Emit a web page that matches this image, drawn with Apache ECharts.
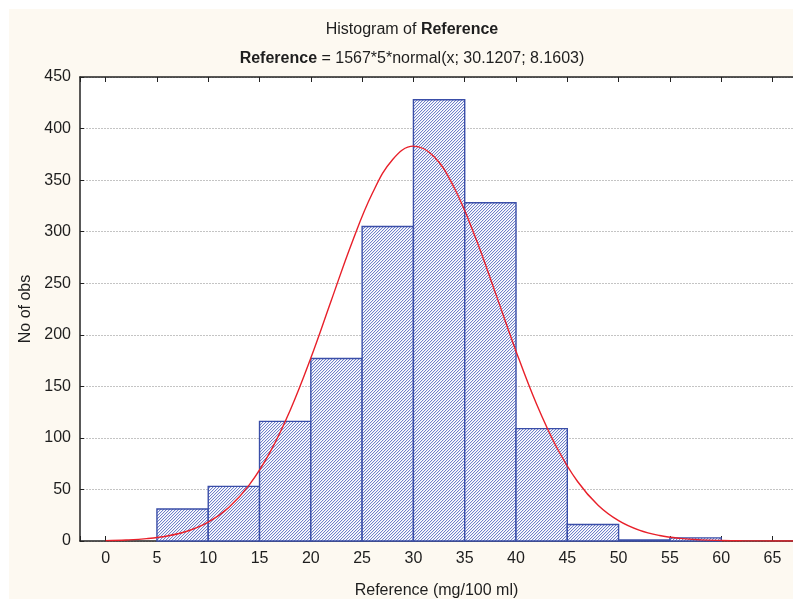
<!DOCTYPE html>
<html>
<head>
<meta charset="utf-8">
<script src="https://cdn.jsdelivr.net/npm/echarts@6/dist/echarts.min.js"></script>
<style>
html,body{margin:0;padding:0;background:#fff;}
#chart{width:793px;height:601px;}
</style>
</head>
<body>
<div id="chart"></div>
<script>
// Histogram bins (lower edge, upper edge) and counts
const binStarts = [5, 10, 15, 20, 25, 30, 35, 40, 45, 50, 55];
const binWidth = 5;
const counts = [31, 53, 116, 177, 305, 428, 328, 109, 16, 1, 3];
// Fitted normal curve (x, expected count)
const curveX = [0,2,4,6,8,10,12,14,16,18,20,22,24,26,28,30,32,34,36,38,40,42,44,46,48,50,52,54,56,58,60,62,64,66,68];
const curveY = [0.4,1.0,2.3,4.9,9.7,18.3,32.5,54.4,85.7,127.1,177.5,233.5,289.1,337.2,370.3,383.0,373.0,342.1,295.5,240.4,184.1,132.8,90.2,57.7,34.7,19.7,10.5,5.3,2.5,1.1,0.5,0.2,0.1,0.03,0.01];
const yTicks = [0, 50, 100, 150, 200, 250, 300, 350, 400, 450];

const chart = echarts.init(document.getElementById('chart'), null, {renderer: 'canvas'});

// hatch pattern (pixel based diagonal stripes)
const P = 6;
const pat = document.createElement('canvas');
pat.width = P; pat.height = P;
const pc = pat.getContext('2d');
for (let y = 0; y < P; y++) {
  for (let x = 0; x < P; x++) {
    const k = (x + y) % 3;
    pc.fillStyle = k === 0 ? '#7081ca' : (k === 1 ? '#e2e6f5' : '#ffffff');
    pc.fillRect(x, y, 1, 1);
  }
}

const barData = binStarts.map((s, i) => [s, s + binWidth, counts[i]]);
const lineData = curveX.map((x, i) => [x, curveY[i]]);

const FONT = '"Liberation Sans", Arial, sans-serif';
const TXT = '#1e1e1e';
const axisCommon = {
  type: 'value',
  min: -2.5,
  max: 67,
  splitNumber: 14,
  minInterval: 5,
  maxInterval: 5
};

chart.setOption({
  animation: false,
  backgroundColor: '#ffffff',
  graphic: [{
    type: 'rect', z: -10, silent: true,
    shape: {x: 9, y: 9, width: 784, height: 590},
    style: {fill: '#fdf9f1'}
  }],
  title: {
    left: 407, top: 17, textAlign: 'center',
    text: '{n|Histogram of }{b|Reference}',
    subtext: '{b|Reference}{n| = 1567*5*normal(x; 30.1207; 8.1603)}',
    itemGap: 13,
    textStyle: {
      rich: {
        n: {fontFamily: FONT, fontSize: 16, color: TXT, fontWeight: 'normal'},
        b: {fontFamily: FONT, fontSize: 16, color: TXT, fontWeight: 'bold'}
      }
    },
    subtextStyle: {
      rich: {
        n: {fontFamily: FONT, fontSize: 16, color: TXT, fontWeight: 'normal'},
        b: {fontFamily: FONT, fontSize: 16, color: TXT, fontWeight: 'bold'}
      }
    }
  },
  grid: {
    left: 80, right: 0, top: 77, bottom: 60,
    outerBoundsMode: 'none',
    containLabel: false,
    show: true, backgroundColor: '#ffffff', borderWidth: 0
  },
  xAxis: [
    Object.assign({}, axisCommon, {
      position: 'bottom',
      name: 'Reference (mg/100 ml)',
      nameLocation: 'middle',
      nameGap: 42,
      nameTextStyle: {fontFamily: FONT, fontSize: 16, color: TXT},
      axisLine: {show: true, onZero: false, lineStyle: {color: '#222', width: 1.5}},
      axisTick: {show: true, inside: true, length: 5, lineStyle: {color: '#222'}},
      axisLabel: {
        fontFamily: FONT, fontSize: 16, color: TXT, margin: 10,
        formatter: v => (Math.abs(v % 5) < 1e-9 ? String(v) : '')
      },
      splitLine: {show: false}
    }),
    Object.assign({}, axisCommon, {
      position: 'top',
      axisLine: {show: true, onZero: false, lineStyle: {color: '#222', width: 1.5}},
      axisTick: {show: true, inside: true, length: 5, lineStyle: {color: '#222'}},
      axisLabel: {show: false},
      splitLine: {show: false}
    })
  ],
  yAxis: {
    type: 'value',
    min: 0, max: 450, interval: 50,
    name: 'No of obs',
    nameLocation: 'middle',
    nameGap: 40,
    nameTextStyle: {fontFamily: FONT, fontSize: 16, color: TXT},
    axisLine: {show: true, onZero: false, lineStyle: {color: '#222', width: 1.5}},
    axisTick: {show: true, inside: true, length: 4, lineStyle: {color: '#222'}},
    axisLabel: {fontFamily: FONT, fontSize: 16, color: TXT, margin: 9},
    splitLine: {show: true, lineStyle: {color: '#c4c4c4', type: [2, 1], width: 1}}
  },
  series: [
    {
      type: 'custom',
      xAxisIndex: 0,
      data: barData,
      encode: {x: [0, 1], y: 2},
      renderItem: function (params, api) {
        const p0 = api.coord([api.value(0), api.value(2)]);
        const p1 = api.coord([api.value(1), 0]);
        return {
          type: 'rect',
          shape: {x: p0[0], y: p0[1], width: p1[0] - p0[0], height: p1[1] - p0[1]},
          style: {fill: {image: pat, repeat: 'repeat'}, stroke: '#3a4ea8', lineWidth: 1.4}
        };
      },
      z: 2
    },
    {
      type: 'line',
      xAxisIndex: 0,
      data: lineData,
      smooth: 0.4,
      showSymbol: false,
      lineStyle: {color: '#e8202a', width: 1.4},
      z: 5
    }
  ]
});
</script>
</body>
</html>
